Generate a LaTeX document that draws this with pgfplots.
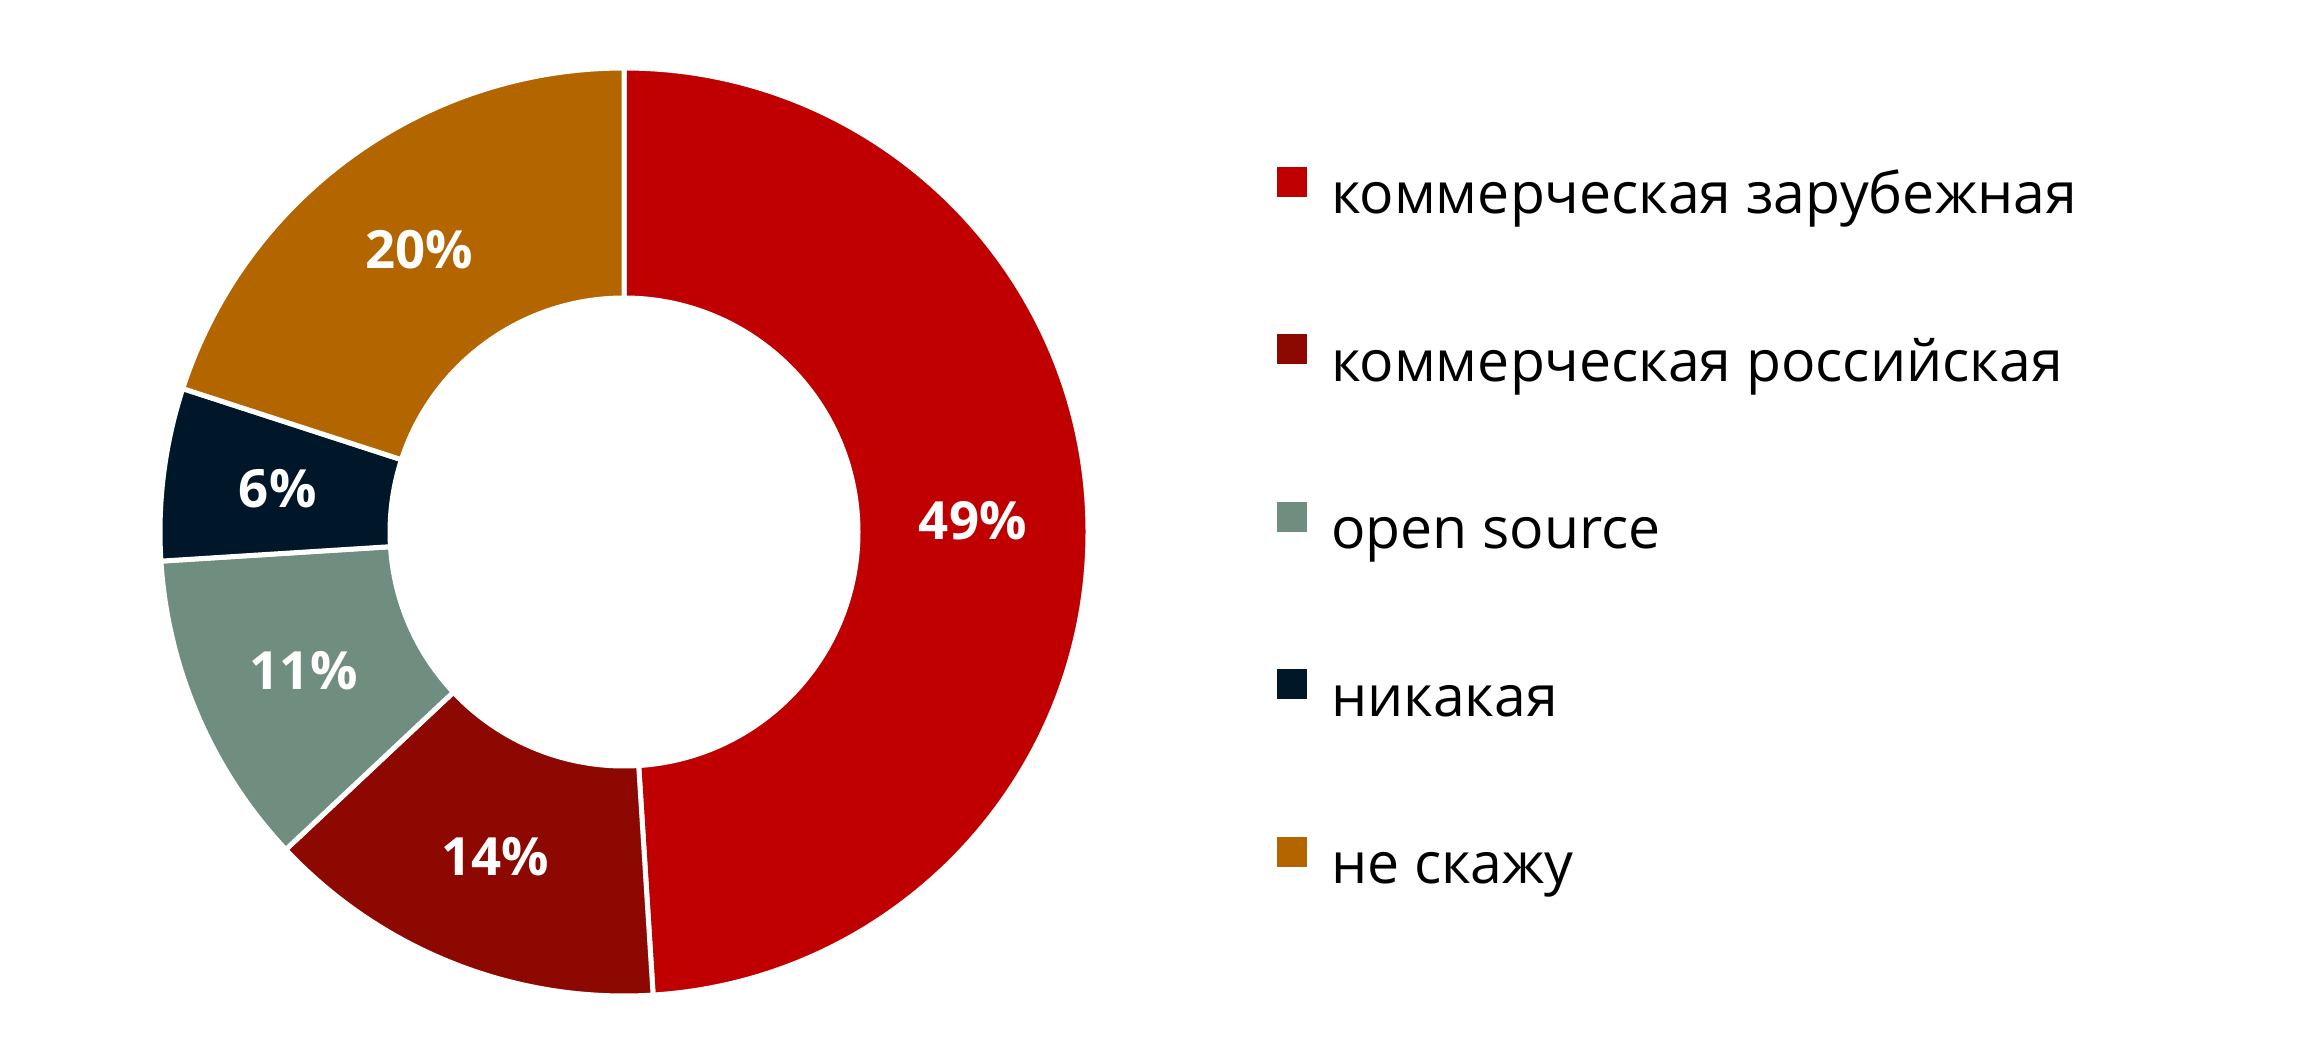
\documentclass[border=0pt]{standalone}
\usepackage{pgfplots}
\pgfplotsset{compat=1.18}
\usepackage{pgfplotstable}
\usepackage{fontspec}
\setmainfont{Open Sans}
\definecolor{c1}{HTML}{C00000}
\definecolor{c2}{HTML}{8C0800}
\definecolor{c3}{HTML}{708E80}
\definecolor{c4}{HTML}{001729}
\definecolor{c5}{HTML}{B36500}
\pgfplotstableread[col sep=comma]{
value,color
49,c1
14,c2
11,c3
6,c4
20,c5
}\shares
\tikzset{pct/.style={text=white,font=\bfseries\fontsize{15pt}{18pt}\selectfont}}
\begin{document}
\begin{tikzpicture}
\path[use as bounding box] (0,0) rectangle (230.9mm,105.9mm);
\begin{axis}[
  hide axis, x=1mm, y=1mm,
  xmin=-50, xmax=50, ymin=-50, ymax=50,
  at={(62.4mm,52.7mm)}, anchor=center, clip=false,
  legend cell align=left,
  legend style={draw=none, fill=none, at={(axis cs:65.3,36.5)}, anchor=north west,
    inner sep=0pt, outer sep=0pt, row sep=10.85mm, column sep=2.4mm,
    font=\fontsize{16.25pt}{20pt}\selectfont,
    nodes={inner sep=0pt, text height=4mm, text depth=1.2mm}},
  legend image code/.code={\fill[#1] (0mm,0.3mm) rectangle (3mm,3.3mm);},
]
\pgfplotstablegetrowsof{\shares}
\pgfmathtruncatemacro{\last}{\pgfplotsretval-1}
\def\cum{0}
\pgfplotsforeachungrouped \i in {0,...,\last}{%
  \pgfplotstablegetelem{\i}{value}\of{\shares}\let\v\pgfplotsretval
  \pgfplotstablegetelem{\i}{color}\of{\shares}\let\c\pgfplotsretval
  \pgfmathsetmacro{\a}{90-3.6*\cum}%
  \pgfmathsetmacro{\b}{90-3.6*(\cum+\v)}%
  \pgfmathsetmacro{\m}{(\a+\b)/2}%
  \edef\temp{\noexpand\fill[fill=\c, draw=white, line width=0.5mm]
    (axis cs:{46.4*cos(\a)},{46.4*sin(\a)}) arc[start angle=\a, end angle=\b, radius=46.4mm]
    -- (axis cs:{23.4*cos(\b)},{23.4*sin(\b)}) arc[start angle=\b, end angle=\a, radius=23.4mm] -- cycle;
    \noexpand\node[pct] at (axis cs:{34.9*cos(\m)},{34.9*sin(\m)}) {\v\noexpand\%};
    \noexpand\addlegendimage{fill=\c, draw=none}}%
  \temp
  \pgfmathsetmacro{\cum}{\cum+\v}%
}
\legend{коммерческая зарубежная, коммерческая российская, open source, никакая, не скажу}
\end{axis}
\end{tikzpicture}
\end{document}
